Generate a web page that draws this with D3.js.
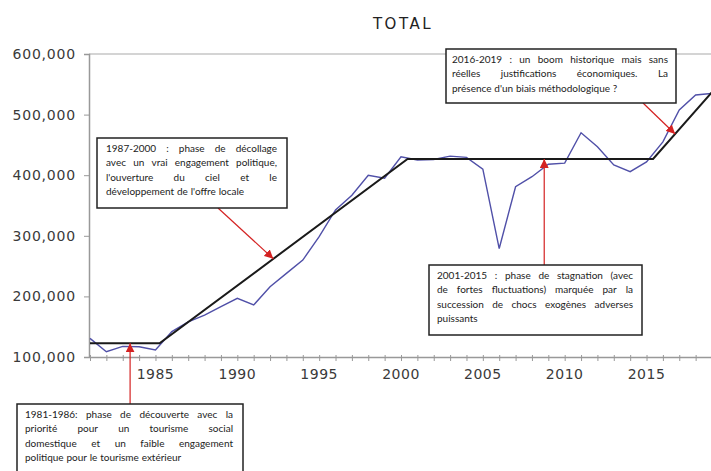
<!DOCTYPE html>
<html>
<head>
<meta charset="utf-8">
<script src="https://cdn.jsdelivr.net/npm/d3@7"></script>
<style>
	body { margin: 0; background: #fff; }
	svg { display: block; }
</style>
</head>
<body>
<div id="chart"></div>
<script>

var width = 711,
	height = 471;

// annual series
var years = [1981,1982,1983,1984,1985,1986,1987,1988,1989,1990,1991,1992,1993,1994,1995,1996,1997,1998,1999,2000,
	2001,2002,2003,2004,2005,2006,2007,2008,2009,2010,2011,2012,2013,2014,2015,2016,2017,2018,2019];
var total = [130800,108700,117500,117000,111600,142000,158000,169000,183000,196800,185800,216000,238000,260000,298500,342600,367000,400000,395000,430500,
	425000,426000,431500,429500,410000,279000,381000,397500,418000,420000,470000,447000,416800,405800,422000,455000,507600,532300,535000];

// piecewise trend (black line)
var trendYears = [1981, 1985.25, 2000.4, 2015.4, 2019];
var trendValues = [122500, 122500, 426700, 426700, 537000];

var yTicks = [100000, 200000, 300000, 400000, 500000, 600000];
var xTickLabels = [1985, 1990, 1995, 2000, 2005, 2010, 2015];

// annotations: year pointed at on the trend + text lines
var annoYears = [1983.45, 1992.2, 2008.75, 2016.75];
var annoTexts = [
	["1981-1986: phase de découverte avec la",
	 "priorité pour un tourisme social",
	 "domestique et un faible engagement",
	 "politique pour le tourisme extérieur"],
	["1987-2000 : phase de décollage",
	 "avec un vrai engagement politique,",
	 "l'ouverture du ciel et le",
	 "développement de l'offre locale"],
	["2001-2015 : phase de stagnation (avec",
	 "de fortes fluctuations) marquée par la",
	 "succession de chocs exogènes adverses",
	 "puissants"],
	["2016-2019 : un boom historique mais sans",
	 "réelles justifications économiques. La",
	 "présence d'un biais méthodologique ?"]
];

var mLeft = 90, mRight = 712, mTop = 54, mBottom = 357;

var svg = d3.select("#chart")
	.append("svg")
	.attr("width", width)
	.attr("height", height);

svg.append("rect").attr("width", width).attr("height", height).attr("fill", "#fff");

var x = d3.scaleLinear().domain([1981, 2019]).range([mLeft, mRight]);
var y = d3.scaleLinear().domain([100000, 600000]).range([mBottom, mTop]);

var trend = d3.scaleLinear().domain(trendYears).range(trendValues);

// frame lines
svg.append("line")
	.attr("x1", mLeft - 1).attr("x2", width)
	.attr("y1", y(600000)).attr("y2", y(600000))
	.attr("stroke", "#aaa").attr("stroke-width", 1.2);

var yAxis = svg.append("g")
	.attr("transform", "translate(" + (mLeft - 1) + ",0)")
	.call(d3.axisLeft(y).tickValues(yTicks).tickSize(5).tickFormat(d3.format(",")));

var xAxis = svg.append("g")
	.attr("transform", "translate(0," + mBottom + ")")
	.call(d3.axisBottom(x).tickValues(years).tickSize(4).tickSizeOuter(0).tickFormat(""));

svg.selectAll(".domain").attr("stroke", "#999").attr("stroke-width", 1.5);
svg.selectAll(".tick line").attr("stroke", "#999");
xAxis.selectAll(".tick line").attr("y1", -2);

yAxis.selectAll("text")
	.attr("font-family", "DejaVu Sans")
	.attr("font-size", "14px")
	.attr("letter-spacing", "0.8px")
	.attr("fill", "#3a3a3a")
	.attr("x", -13);

svg.selectAll(".xlabel")
	.data(xTickLabels)
	.enter()
	.append("text")
	.attr("class", "xlabel")
	.attr("x", function(d) { return x(d); })
	.attr("y", mBottom + 22)
	.attr("text-anchor", "middle")
	.attr("font-family", "DejaVu Sans")
	.attr("font-size", "14px")
	.attr("letter-spacing", "0.5px")
	.attr("fill", "#3a3a3a")
	.text(function(d) { return d; });

svg.append("text")
	.attr("x", 403)
	.attr("y", 29)
	.attr("text-anchor", "middle")
	.attr("font-family", "DejaVu Sans")
	.attr("font-size", "15px")
	.attr("letter-spacing", "2.5px")
	.attr("fill", "#222")
	.text("TOTAL");

// lines
var plot = svg.append("g");

var line = d3.line()
	.x(function(d, i) { return x(years[i]); })
	.y(function(d) { return y(d); });

plot.append("path")
	.datum(total)
	.attr("fill", "none")
	.attr("stroke", "#5050a8")
	.attr("stroke-width", 1.4)
	.attr("d", line);

var trendLine = d3.line()
	.x(function(d, i) { return x(trendYears[i]); })
	.y(function(d) { return y(d); });

plot.append("path")
	.datum(trendValues)
	.attr("fill", "none")
	.attr("stroke", "#1a1a1a")
	.attr("stroke-width", 2)
	.attr("d", trendLine);

// arrow head
svg.append("defs").append("marker")
	.attr("id", "head")
	.attr("markerUnits", "userSpaceOnUse")
	.attr("viewBox", "0 0 10 10")
	.attr("refX", 10).attr("refY", 5)
	.attr("markerWidth", 9).attr("markerHeight", 9)
	.attr("orient", "auto")
	.append("path")
	.attr("d", "M0,0 L10,5 L0,10 Z")
	.attr("fill", "#d42222");

// boxes: [left, top, width, height] and arrow start
var boxes = [
	{ b: [17, 404, 226, 70], from: null, pad: [8, 10] },
	{ b: [97, 138, 190, 70], from: [218, 208], pad: [9, 10] },
	{ b: [429, 265, 213, 70], from: null, pad: [8, 9] },
	{ b: [446, 49, 230, 54], from: [643, 103], pad: [6, 8] }
];

boxes.forEach(function(bx, k) {
	var tx = x(annoYears[k]),
		ty = y(trend(annoYears[k]));
	var fx, fy;
	if (bx.from) { fx = bx.from[0]; fy = bx.from[1]; }
	else { fx = tx; fy = bx.b[1]; }

	svg.append("line")
		.attr("x1", fx).attr("y1", fy)
		.attr("x2", tx).attr("y2", ty)
		.attr("stroke", "#d42222")
		.attr("stroke-width", 1.2)
		.attr("marker-end", "url(#head)");

	var g = svg.append("g");
	g.append("rect")
		.attr("x", bx.b[0]).attr("y", bx.b[1])
		.attr("width", bx.b[2]).attr("height", bx.b[3])
		.attr("fill", "#fff")
		.attr("stroke", "#222")
		.attr("stroke-width", 1.5);

	var x0 = bx.b[0] + bx.pad[0],
		avail = bx.b[2] - bx.pad[0] - bx.pad[1];

	annoTexts[k].forEach(function(txt, i) {
		var ly = bx.b[1] + 14 + i * 14.3;
		var words = txt.split(" ");
		var t = g.append("text")
			.attr("y", ly)
			.attr("font-family", "Lato")
			.attr("font-size", "10px")
			.attr("fill", "#222");
		var spans = words.map(function(w) {
			return t.append("tspan").attr("x", x0).text(w);
		});
		var widths = spans.map(function(s) { return s.node().getComputedTextLength(); });
		var sum = d3.sum(widths);
		var last = (i == annoTexts[k].length - 1);
		var gap = (last || words.length < 2) ? 2.8 : (avail - sum) / (words.length - 1);
		var cx = x0;
		spans.forEach(function(s, j) {
			s.attr("x", cx);
			cx += widths[j] + gap;
		});
	});
});

</script>
</body>
</html>
